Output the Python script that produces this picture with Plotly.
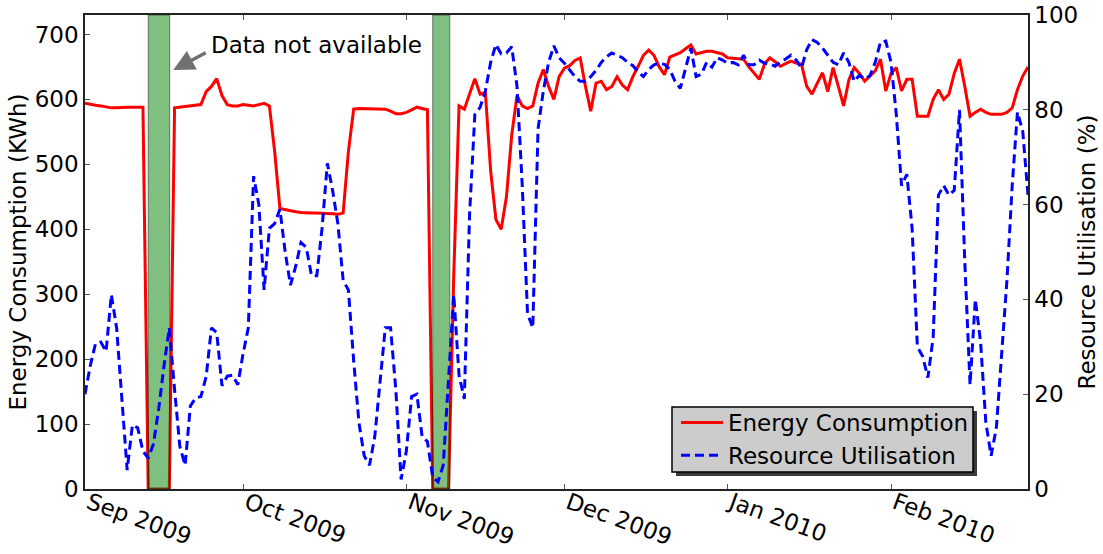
import pandas as pd
import plotly.graph_objects as go

# Daily series starting 1 Sep 2009
start_date = "2009-09-01"

energy_kwh = [
    594, 592, 591, 590, 588, 587, 587, 588, 588, 588,
    588, 588, 0, 0, 0, 0, 0, 587, 588, 589,
    590, 590, 592, 612, 620, 632, 606, 592, 590, 590,
    592, 591, 590, 592, 594, 590, 520, 432, 430, 428,
    427, 426, 425, 425, 425, 425, 425, 424, 423, 425,
    520, 585, 586, 586, 586, 586, 585, 585, 582, 578,
    578, 580, 584, 588, 586, 584, 0, 0, 0, 0,
    330, 590, 585, 610, 632, 608, 610, 490, 415, 400,
    450, 545, 606, 590, 586, 590, 625, 646, 620, 600,
    635, 648, 652, 660, 664, 620, 582, 625, 628, 615,
    620, 635, 622, 615, 635, 651, 668, 676, 668, 650,
    638, 665, 668, 672, 678, 684, 670, 672, 674, 674,
    672, 670, 664, 663, 662, 662, 650, 640, 631, 655,
    664, 658, 651, 655, 659, 656, 654, 620, 608, 625,
    641, 612, 649, 620, 590, 630, 649, 640, 628, 636,
    644, 662, 613, 640, 649, 613, 631, 631, 574, 574,
    574, 600, 615, 600, 608, 640, 662, 620, 574, 580,
    585, 580, 577, 577, 577, 580, 587, 615, 636, 650,
]

utilisation_pct = [
    20, 26, 30.7, 31, 29, 41, 34, 19, 4, 13.5,
    12.9, 8, 6.5, 9.5, 17, 26, 34, 21, 9, 5,
    17.5, 19.2, 19.5, 23.7, 34, 33, 21.8, 23.8, 24, 22,
    28.5, 34, 66, 60, 42, 55, 56, 59, 50, 43,
    47, 52, 51, 45, 45, 55, 68.7, 63, 56, 44,
    42, 27, 14, 7, 5, 11, 23, 34, 34, 21,
    2, 8, 19.5, 20, 11, 10, 2.5, 1.5, 5, 23.7,
    41, 24, 19, 58, 79, 80.5, 84, 90, 93.8, 91.8,
    92, 93.3, 85, 64, 37, 34, 76, 84, 90, 93.5,
    91, 89.8, 88.5, 87, 86, 86, 87, 88.3, 90, 91.2,
    92, 91.5, 91, 90, 89.3, 88, 87, 88.5, 89.5, 89.8,
    89.6, 88.5, 86, 84.5, 88.5, 93, 87, 87.5, 90, 89,
    91, 90.5, 89.8, 90, 89.5, 91.5, 89.5, 89.5, 90.5, 89.8,
    89.7, 89.2, 90.1, 90.7, 91.5, 90.5, 88.8, 92.7, 94.8, 94.2,
    93, 91.6, 90, 89.5, 92, 90, 86, 87.3, 86.5, 87.2,
    90, 94.3, 94.5, 90, 79, 64, 66.4, 55, 30, 28,
    23.5, 32, 62, 64, 62, 63, 80, 48, 22, 40,
    31, 14, 7, 13, 28, 44, 64, 79.5, 75.5, 62,
]

# Periods with no monitoring data
gap_starts = ["2009-09-13 00:00", "2009-11-06 00:00"]
gap_ends = ["2009-09-17 02:00", "2009-11-09 06:00"]

x_range = ["2009-09-01", "2010-02-27"]
energy_range = [0, 730]
util_range = [0, 100]

dates = pd.date_range(start_date, periods=len(energy_kwh), freq="D")

FONT = "DejaVu Sans"
FS = 23

# Plot area in pixels (used to place the legend frame and labels)
PLOT_L, PLOT_R, PLOT_T, PLOT_B = 85, 1028, 15, 489


def px_x(x):
    return (x - PLOT_L) / (PLOT_R - PLOT_L)


def px_y(y):
    return (PLOT_B - y) / (PLOT_B - PLOT_T)


fig = go.Figure()

fig.add_trace(go.Scatter(
    x=dates, y=energy_kwh, name="Energy Consumption", mode="lines",
    line=dict(color="#ff0000", width=3), yaxis="y",
))

# Shaded spans over the missing-data periods (drawn over the red line,
# under the dashed utilisation line)
for s, e in zip(gap_starts, gap_ends):
    top = energy_range[1]
    fig.add_trace(go.Scatter(
        x=[s, s, e, e, s], y=[0, top, top, 0, 0], mode="lines",
        fill="toself", fillcolor="rgba(0,128,0,0.5)",
        line=dict(color="rgba(0,0,0,0.45)", width=1),
        showlegend=False, hoverinfo="skip", yaxis="y",
    ))

fig.add_trace(go.Scatter(
    x=dates, y=utilisation_pct, name="Resource Utilisation", mode="lines",
    line=dict(color="#0000ff", width=3, dash="9px,5px"), yaxis="y2",
))

axis_common = dict(
    showline=True, linecolor="#222222", linewidth=1.5,
    showgrid=False, zeroline=False, automargin=False,
    ticks="inside", ticklen=5, tickcolor="#555555", tickwidth=1,
    tickfont=dict(family=FONT, size=FS, color="black"),
)

fig.update_layout(
    width=1103, height=554,
    margin=dict(l=PLOT_L, r=1103 - PLOT_R, t=PLOT_T, b=554 - PLOT_B),
    paper_bgcolor="white", plot_bgcolor="white",
    font=dict(family=FONT, size=FS, color="black"),
    xaxis=dict(
        type="date", range=x_range, tick0="2009-09-01", dtick="M1",
        tickformat="%b %Y", tickangle=20, mirror="ticks",
        ticklabelstandoff=-10, ticklabelshift=4, **axis_common,
    ),
    yaxis=dict(
        range=energy_range, dtick=100, mirror=True,
        title=dict(text="Energy Consumption (KWh)", standoff=2,
                   font=dict(family=FONT, size=FS)),
        **axis_common,
    ),
    yaxis2=dict(
        range=util_range, dtick=20, overlaying="y", side="right",
        title=dict(text="Resource Utilisation (%)", standoff=2,
                   font=dict(family=FONT, size=FS)),
        **axis_common,
    ),
    legend=dict(
        x=px_x(676), y=px_y(401), xanchor="left", yanchor="top",
        bgcolor="rgba(0,0,0,0)", borderwidth=0, itemwidth=42,
        font=dict(family=FONT, size=FS, color="black"),
    ),
    showlegend=True,
)

# Legend frame: drop shadow, then grey box with black border
fig.add_shape(
    type="rect", xref="paper", yref="paper", layer="above",
    x0=px_x(676), x1=px_x(977), y0=px_y(476), y1=px_y(411),
    fillcolor="#3a3a3a", line=dict(width=0),
)
fig.add_shape(
    type="rect", xref="paper", yref="paper", layer="above",
    x0=px_x(672), x1=px_x(973), y0=px_y(472), y1=px_y(407),
    fillcolor="#cccccc", line=dict(color="black", width=1.5),
)

# Label with a pointer to the first missing-data span
fig.add_annotation(
    x="2009-09-17 18:00", y=0.884, xref="x", yref="paper",
    ax=34, ay=-18, axref="pixel", ayref="pixel",
    text="", showarrow=True, arrowhead=2, arrowsize=1.2, arrowwidth=3.5,
    arrowcolor="#707070",
)
fig.add_annotation(
    x=px_x(209), y=0.937, xref="paper", yref="paper",
    xanchor="left", yanchor="middle", showarrow=False,
    text="Data not available", font=dict(family=FONT, size=FS, color="black"),
)

fig.write_html("out.html")
